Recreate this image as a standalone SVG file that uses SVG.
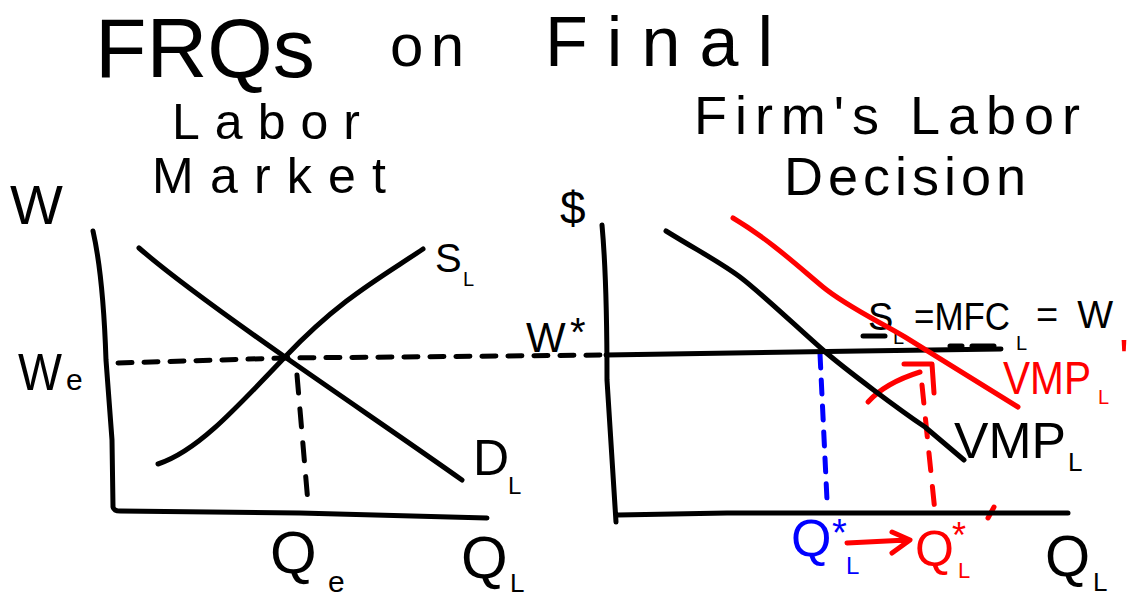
<svg xmlns="http://www.w3.org/2000/svg" width="1138" height="598" viewBox="0 0 1138 598">
<style>
.t{font-family:"Liberation Sans","DejaVu Sans",sans-serif;fill:#000}
.r{fill:#ff0000}
.b{fill:#0000ff}
.k{fill:none;stroke:#000;stroke-width:5;stroke-linecap:round;stroke-linejoin:round}
.rs{fill:none;stroke:#ff0000;stroke-width:5;stroke-linecap:round;stroke-linejoin:round}
.bs{fill:none;stroke:#0000ff;stroke-width:5;stroke-linecap:round}
</style>
<rect width="1138" height="598" fill="#fff"/>
<g id="title">
<text class="t" x="95" y="77" font-size="84" textLength="220" lengthAdjust="spacingAndGlyphs">FRQs</text>
<text class="t" x="390" y="66" font-size="60" textLength="74" lengthAdjust="spacing">on</text>
<text class="t" x="545" y="66" font-size="70" textLength="228" lengthAdjust="spacing">Final</text>
</g>
<g id="left-graph">
<text class="t" x="172" y="139" font-size="50" textLength="188" lengthAdjust="spacing">Labor</text>
<text class="t" x="152" y="193" font-size="50" textLength="234" lengthAdjust="spacing">Market</text>
<text class="t" x="10" y="224" font-size="56">W</text>
<g id="left-axes"><path class="k" d="M93,231 C100,262 104,300 106,360 L112,440 L113,507 Q114,511 120,511 L300,513 L487,518"/></g>
<g id="demand"><path class="k" d="M139,248 C170,275 225,315 285,357 S420,450 462,480"/>
<text class="t" x="473" y="475" font-size="50">D</text><text class="t" x="508" y="494" font-size="24">L</text></g>
<g id="supply"><path class="k" d="M158,464 C195,452 230,415 285,357 S380,278 423,249"/>
<text class="t" x="435" y="272" font-size="40">S</text><text class="t" x="463" y="286" font-size="20">L</text></g>
<g id="we"><text class="t" x="18" y="390" font-size="52" textLength="44" lengthAdjust="spacingAndGlyphs">W</text><text class="t" x="66" y="390" font-size="30">e</text></g>
<g id="qe"><text class="t" x="270" y="573" font-size="60">Q</text><text class="t" x="328" y="592" font-size="30">e</text></g>
<g id="ql-left"><text class="t" x="461" y="578" font-size="60">Q</text><text class="t" x="510" y="592" font-size="26">L</text></g>
</g>
<g id="connectors">
<path class="k" d="M118,363 L285,358 L610,355" stroke-dasharray="14 12"/>
<path class="k" d="M297,375 L308,503" stroke-dasharray="18 16"/>
<path class="bs" d="M820,354 L827,500" stroke-dasharray="14 12"/>
<path class="rs" d="M922,385 L935,512" stroke-dasharray="18 16"/>
<path class="rs" d="M988,518 L994,507"/>
<path class="rs" d="M847,543 L907,540 M892,532 L910,540 L892,553"/>
<path class="rs" d="M868,402 Q885,383 920,372 M904,364 L932,364 L934,393"/>
</g>
<g id="right-graph">
<text class="t" x="694" y="134" font-size="54" textLength="386" lengthAdjust="spacing">Firm's Labor</text>
<text class="t" x="784" y="195" font-size="54" textLength="242" lengthAdjust="spacing">Decision</text>
<text class="t" x="560" y="224" font-size="46">$</text>
<g id="right-axes"><path class="k" d="M602,225 Q607,280 607,380 L616,522 M618,515 L727,513 L1068,513"/></g>
<g id="wage-line"><path class="k" d="M606,355 L860,351 L1001,349"/>
<path class="k" d="M863,336 L885,336" stroke-width="4"/>
<path class="k" d="M950,346 L962,346 M972,346 L994,346" stroke-width="3"/>
<text class="t" x="526" y="352" font-size="42">W</text><text class="t" x="570" y="346" font-size="40">*</text>
<text class="t" x="868" y="330" font-size="38">S</text><text class="t" x="893" y="344" font-size="20">L</text>
<text class="t" x="914" y="330" font-size="38" textLength="96" lengthAdjust="spacingAndGlyphs">=MFC</text>
<text class="t" x="1016" y="350" font-size="20">L</text>
<text class="t" x="1036" y="328" font-size="38" textLength="77" lengthAdjust="spacing">= W</text></g>
<g id="vmp"><path class="k" d="M666,231 C700,252 720,262 740,277 S800,330 823,350 S900,410 925,427 L964,460"/>
<text class="t" x="954" y="458" font-size="50" textLength="112" lengthAdjust="spacingAndGlyphs">VMP</text>
<text class="t" x="1068" y="471" font-size="26">L</text></g>
<g id="vmp-prime"><path class="rs" d="M733,218 C770,240 800,268 823,287 S880,322 905,337 L1018,407"/>
<text class="t r" x="1003" y="394" font-size="46" textLength="88" lengthAdjust="spacingAndGlyphs">VMP</text>
<text class="t r" x="1098" y="404" font-size="20">L</text>
<text class="t r" x="1119" y="376" font-size="52">'</text></g>
<g id="q-star-blue"><text class="t b" x="791" y="556" font-size="52">Q</text><text class="t b" x="832" y="546" font-size="38">*</text><text class="t b" x="846" y="574" font-size="24">L</text></g>
<g id="q-star-red"><text class="t r" x="915" y="566" font-size="50">Q</text><text class="t r" x="952" y="548" font-size="36">*</text><text class="t r" x="958" y="578" font-size="22">L</text></g>
<g id="ql-right"><text class="t" x="1045" y="576" font-size="58">Q</text><text class="t" x="1093" y="591" font-size="26">L</text></g>
</g>
</svg>
